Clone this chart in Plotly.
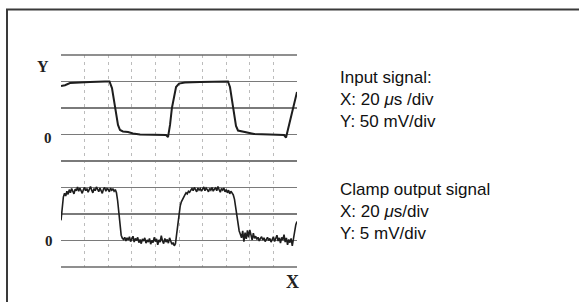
import plotly.graph_objects as go

# ---------------- data ----------------
# Input signal: time in microseconds, amplitude in mV (50 mV/div)
input_t = [0, 3.4, 7.6, 12.7, 24.6, 37.3, 41.1, 43.2, 44.9, 46.6, 48.3, 50.0,
           52.5, 56.8, 61.0, 67.0, 84.0, 89.0, 90.7, 92.4, 94.0, 95.8, 97.5,
           100.0, 105.0, 117.8, 130.5, 141.5, 143.2, 145.0, 146.6, 148.3,
           150.0, 153.4, 158.5, 163.6, 177.0, 189.0, 190.7, 193.2, 195.8,
           198.3, 200.0]
input_mv = [91.5, 93, 97, 98, 99, 100, 100, 87.7, 65, 37, 18, 8.5,
            5.7, 4.7, 1.9, 0, 0, -1, -4.7, 18, 50, 74.5, 89.6,
            96, 98, 99, 100, 100, 89.6, 65, 37, 16,
            7.5, 5.7, 3.8, 1.0, 0, -1, -5.7, 18, 46,
            69, 80]

# Clamp output signal: sampled every 1 microsecond, amplitude in mV (5 mV/div)
output_t = list(range(0, 201))
output_mv = [
    3.8, 6.5, 8.2, 8.9, 8.4, 9.3, 8.7, 9.6, 9.0, 9.8,
    9.2, 8.8, 9.7, 9.4, 10.1, 9.3, 9.9, 9.5, 8.9, 9.6,
    10.0, 9.4, 9.8, 9.1, 9.7, 10.2, 9.5, 9.0, 9.8, 9.4,
    10.1, 9.6, 9.2, 9.9, 9.5, 8.9, 9.7, 10.0, 9.3, 9.8,
    9.6, 9.2, 9.9, 9.5, 9.7, 9.3, 9.6, 9.0, 7.5, 5.0,
    2.5, 1.0, 0.4, 0.2, 0.6, -0.1, 0.5, 0.1, 0.7, -0.2,
    0.3, 0.8, -0.3, 0.4, 0.0, 0.6, -0.4, 0.2, -0.6, 0.3,
    -0.1, 0.5, -0.5, 0.1, -0.3, 0.4, -0.7, 0.0, -0.4, 0.6,
    -0.2, 0.3, -0.8, 0.1, -0.3, 0.9, -0.1, -0.6, 0.4, -0.3,
    0.2, -0.5, 0.5, -0.2, -0.7, -0.4, -1.0, -0.6, 1.5, 3.5,
    5.3, 6.5, 7.3, 7.8, 8.4, 8.6, 9.0, 8.8, 9.3, 9.1,
    9.5, 9.8, 9.4, 10.0, 9.6, 9.2, 9.9, 9.5, 9.8, 9.3,
    9.7, 10.1, 9.4, 9.9, 9.6, 9.2, 9.8, 9.5, 10.0, 9.3,
    9.7, 9.9, 9.4, 10.2, 9.6, 9.1, 9.8, 9.5, 9.9, 9.2,
    9.6, 9.0, 9.5, 8.8, 9.3, 9.0, 8.6, 7.8, 6.2, 4.5,
    3.0, 1.8, 1.2, 0.5, 1.8, -0.2, 1.5, 0.3, 1.9, 0.6,
    2.0, 0.9, 0.1, 1.4, 0.4, 0.8, 0.2, 0.6, -0.1, 0.4,
    0.7, 0.1, 0.5, -0.2, 0.3, 0.6, 0.0, 0.4, -0.3, 0.2,
    0.7, -0.2, 0.4, 1.0, -0.1, 0.5, -0.5, 0.6, 0.1, 1.1,
    -0.3, 0.5, -0.8, 0.2, -0.4, 0.4, -1.0, 0.6, 1.8, 3.0,
    3.6,
]

right_text_1 = ["Input signal:", "X: 20 <i>\u03bc</i>s /div", "Y: 50 mV/div"]
right_text_2 = ["Clamp output signal", "X: 20 <i>\u03bc</i>s/div", "Y: 5 mV/div"]

# ---------------- figure ----------------
W, H = 579, 302
L, R, T, B = 61, 297, 55, 267  # plot-area pixel box


def px(x):
    return (x - L) / (R - L)


def py(y):
    return (B - y) / (B - T)


fig = go.Figure()
fig.add_trace(go.Scatter(x=input_t, y=input_mv, mode="lines",
                         line=dict(color="#1e1e1e", width=2),
                         yaxis="y", hoverinfo="skip", showlegend=False))
fig.add_trace(go.Scatter(x=output_t, y=output_mv, mode="lines",
                         line=dict(color="#1e1e1e", width=1.6),
                         yaxis="y2", hoverinfo="skip", showlegend=False))

annotations = []
for i, s in enumerate(right_text_1):
    annotations.append(dict(text=s, x=px(338), y=py(77 + 22.2 * i)))
for i, s in enumerate(right_text_2):
    annotations.append(dict(text=s, x=px(338), y=py(189 + 22.2 * i)))
for a in annotations:
    a.update(xref="paper", yref="paper", xanchor="left", yanchor="middle",
             showarrow=False,
             font=dict(family="Liberation Sans, Arial, sans-serif", size=17, color="#111"))

serif = "Liberation Serif, Times New Roman, serif"
annotations += [
    dict(text="<b>Y</b>", x=px(43), y=py(66), font=dict(family=serif, size=16, color="#222")),
    dict(text="<b>0</b>", x=px(47.5), y=py(138), font=dict(family=serif, size=15, color="#222")),
    dict(text="<b>0</b>", x=px(49), y=py(240.5), font=dict(family=serif, size=15, color="#222")),
    dict(text="<b>X</b>", x=px(292.5), y=py(281.5), font=dict(family=serif, size=18, color="#222")),
]
for a in annotations[-4:]:
    a.update(xref="paper", yref="paper", xanchor="center", yanchor="middle", showarrow=False)

shapes = [
    # outer frame (left + top visible)
    dict(type="rect", xref="paper", yref="paper", x0=px(7), x1=px(700), y0=py(400), y1=py(9.5),
         line=dict(color="#3a3a3a", width=2), fillcolor="rgba(0,0,0,0)", layer="above"),
    # solid top/bottom edges of the graticule
    dict(type="line", xref="paper", yref="paper", x0=0, x1=1, y0=1, y1=1,
         line=dict(color="#6a6a6a", width=1.6)),
    dict(type="line", xref="paper", yref="paper", x0=0, x1=1, y0=0, y1=0,
         line=dict(color="#6a6a6a", width=1.6)),
]

fig.update_layout(
    width=W, height=H,
    margin=dict(l=L, r=W - R, t=T, b=H - B, pad=0),
    paper_bgcolor="white", plot_bgcolor="white",
    annotations=annotations, shapes=shapes,
    xaxis=dict(range=[0, 200], tick0=0, dtick=20, showgrid=True,
               gridcolor="#bcbcbc", gridwidth=1, griddash="3px,4px",
               showticklabels=False, ticks="", zeroline=False, showline=False,
               fixedrange=True),
    yaxis=dict(range=[-250, 150], tick0=-250, dtick=50, showgrid=True,
               gridcolor="#7a7a7a", gridwidth=1.5,
               showticklabels=False, ticks="", zeroline=False, showline=False,
               fixedrange=True),
    yaxis2=dict(range=[-5, 35], overlaying="y", showgrid=False,
                showticklabels=False, ticks="", zeroline=False, showline=False,
                fixedrange=True),
    showlegend=False,
)

fig.write_html("out.html", config={"displayModeBar": False, "staticPlot": True},
               post_script="document.body.style.margin='0';document.body.style.overflow='hidden';")
